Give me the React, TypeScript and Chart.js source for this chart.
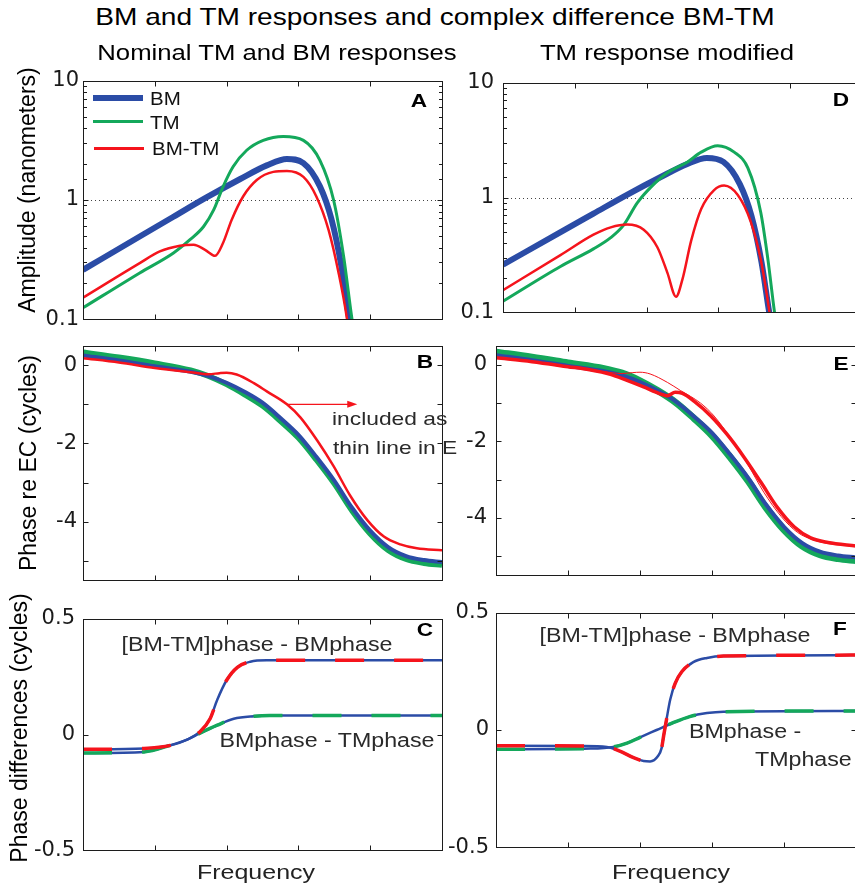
import React, { useEffect, useRef } from "react";
import { Chart, registerables } from "chart.js";
Chart.register(...registerables);

// ---------------- DATA ----------------
// Panel A / D: amplitude (nanometers) vs frequency (axis units 0..5)
const bmAmpFreq = [0, 0.79, 1.26, 1.72, 2.19, 2.56, 2.84, 3.07, 3.3, 3.46, 3.6, 3.7, 3.8];
const bmAmp = [0.26, 0.495, 0.724, 1.05, 1.5, 1.95, 2.21, 2.04, 1.3, 0.692, 0.275, 0.107, 0.045];

const tmAmpFreq = [0, 0.79, 1.26, 1.49, 1.68, 1.82, 1.95, 2.09, 2.28, 2.51, 2.79, 3.07, 3.3, 3.49, 3.63, 3.74, 3.85];
const tmAmp = [0.125, 0.245, 0.36, 0.465, 0.6, 0.826, 1.29, 1.9, 2.61, 3.16, 3.41, 3.16, 2.15, 1.0, 0.337, 0.107, 0.04];

const diffAmpFreq = [0, 0.79, 1.07, 1.35, 1.54, 1.7, 1.84, 1.95, 2.07, 2.23, 2.42, 2.65, 2.84, 3.07, 3.25, 3.42, 3.56, 3.67, 3.76];
const diffAmp = [0.152, 0.296, 0.371, 0.414, 0.422, 0.383, 0.341, 0.436, 0.681, 1.07, 1.47, 1.72, 1.75, 1.56, 1.07, 0.562, 0.245, 0.107, 0.04];

const tmModAmpFreq = [0, 0.8, 1.26, 1.5, 1.68, 1.87, 2.06, 2.29, 2.57, 2.76, 2.99, 3.22, 3.41, 3.59, 3.69, 3.78, 3.88];
const tmModAmp = [0.125, 0.251, 0.357, 0.447, 0.575, 0.897, 1.23, 1.64, 2.04, 2.48, 2.82, 2.48, 1.81, 0.741, 0.288, 0.102, 0.04];

const diffModAmpFreq = [0, 0.8, 1.26, 1.5, 1.73, 1.96, 2.15, 2.29, 2.41, 2.5, 2.62, 2.76, 2.94, 3.08, 3.27, 3.45, 3.59, 3.71, 3.8];
const diffModAmp = [0.156, 0.315, 0.475, 0.55, 0.582, 0.525, 0.369, 0.221, 0.137, 0.195, 0.419, 0.794, 1.16, 1.27, 1.05, 0.617, 0.288, 0.102, 0.04];

// Panel B / E: phase re EC (cycles)
const phaseFreq = [0, 0.5, 1, 1.5, 1.75, 2, 2.25, 2.5, 2.75, 3, 3.25, 3.5, 3.75, 4, 4.25, 4.5, 4.75, 5];
const bmPhase = [0.25, 0.12, -0.03, -0.17, -0.28, -0.45, -0.68, -0.96, -1.35, -1.78, -2.34, -2.95, -3.65, -4.23, -4.65, -4.88, -4.98, -5.03];
const tmPhase = [0.33, 0.2, 0.05, -0.13, -0.28, -0.49, -0.75, -1.04, -1.43, -1.86, -2.42, -3.03, -3.73, -4.31, -4.73, -4.96, -5.06, -5.11];
const tmModPhase = [0.33, 0.2, 0.05, -0.1, -0.22, -0.42, -0.68, -0.99, -1.4, -1.85, -2.41, -3.03, -3.73, -4.31, -4.73, -4.96, -5.06, -5.11];

const diffPhaseFreq = [0, 0.5, 1, 1.5, 1.75, 1.9, 2.0, 2.14, 2.38, 2.56, 2.84, 3.03, 3.26, 3.49, 3.72, 3.96, 4.19, 4.42, 4.65, 5];
const diffPhase = [0.18, 0.07, -0.07, -0.18, -0.23, -0.205, -0.195, -0.24, -0.46, -0.67, -1.0, -1.34, -1.92, -2.58, -3.33, -3.96, -4.38, -4.58, -4.68, -4.73];

const diffModPhaseFreq = [0, 0.5, 1, 1.3, 1.59, 1.82, 2.05, 2.28, 2.38, 2.49, 2.59, 2.75, 2.98, 3.21, 3.44, 3.68, 3.91, 4.14, 4.37, 4.61, 5];
const diffModPhase = [0.18, 0.08, -0.05, -0.13, -0.25, -0.41, -0.58, -0.76, -0.81, -0.72, -0.75, -0.95, -1.33, -1.82, -2.4, -3.07, -3.73, -4.23, -4.52, -4.64, -4.73];

// Panel C / F: phase differences (cycles)
const cDiffFreq = [0, 0.85, 1.22, 1.45, 1.63, 1.77, 1.87, 2.0, 2.15, 2.33, 2.56, 3.5, 5];
const cDiffMinusBm = [-0.064, -0.06, -0.047, -0.022, 0.012, 0.068, 0.15, 0.234, 0.29, 0.314, 0.32, 0.32, 0.32];
const cBmTmFreq = [0, 0.85, 1.22, 1.45, 1.63, 1.87, 2.1, 2.38, 2.6, 5];
const cBmMinusTm = [-0.08, -0.075, -0.046, -0.022, 0.006, 0.04, 0.068, 0.079, 0.082, 0.082];

const fDiffFreq = [0, 1.2, 1.54, 1.72, 1.91, 2.05, 2.14, 2.25, 2.3, 2.33, 2.37, 2.42, 2.49, 2.58, 2.74, 2.93, 3.16, 5];
const fDiffMinusBm = [-0.067, -0.068, -0.072, -0.09, -0.118, -0.132, -0.134, -0.111, -0.077, -0.022, 0.048, 0.13, 0.2, 0.248, 0.289, 0.307, 0.315, 0.319];
const fBmTmFreq = [0, 1.31, 1.63, 1.82, 2.0, 2.23, 2.46, 2.69, 2.93, 3.16, 5];
const fBmMinusTm = [-0.082, -0.079, -0.072, -0.056, -0.031, 0.0, 0.031, 0.057, 0.072, 0.078, 0.081];

// Ticks and tick labels
const freqTicks = [0, 1, 2, 3, 4, 5];
const ampTickLabels = [0.1, 1, 10];
const phaseTicks = [-5, -4, -3, -2, -1, 0];
const phaseTickLabels = [0, -2, -4];
const diffTicks = [-0.5, 0, 0.5];
const diffTickLabels = [-0.5, 0, 0.5];

// ---------------- STYLE ----------------
const BLUE = "#2B4CA6";
const GREEN = "#14A85B";
const RED = "#F5141C";
const FONT = '"Liberation Sans", Arial, Helvetica, sans-serif';
const AX = 70, PT = 16, PB = 16, PR = 4;

type Frame = { l: number; t: number; r: number; b: number };

const pts = (xs: number[], ys: number[]) => xs.map((x, i) => ({ x, y: ys[i] }));
const near = (a: number, b: number) => Math.abs(a - b) <= 1e-6 * Math.max(1, Math.abs(b));
const setTicks = (vals: number[]) => (s: any) => { s.ticks = vals.map((value) => ({ value })); };

const axesPlugin = {
  id: "matlabAxes",
  beforeDatasetsDraw(chart: any, _a: any, opts: any) {
    if (opts.dottedAt == null) return;
    const { ctx, chartArea: ca, scales } = chart;
    const py = Math.round(scales.y.getPixelForValue(opts.dottedAt)) + 0.5;
    ctx.save();
    ctx.strokeStyle = "#444";
    ctx.lineWidth = 1;
    ctx.setLineDash([1, 3]);
    ctx.beginPath();
    ctx.moveTo(ca.left, py);
    ctx.lineTo(ca.right, py);
    ctx.stroke();
    ctx.restore();
  },
  afterDatasetsDraw(chart: any, _a: any, opts: any) {
    const { ctx, chartArea: ca, scales } = chart;
    const L = Math.round(ca.left) + 0.5, R = Math.round(ca.right) + 0.5;
    const T = Math.round(ca.top) + 0.5, B = Math.round(ca.bottom) + 0.5;
    ctx.save();
    if (opts.arrow) {
      const a = opts.arrow;
      const x0 = scales.x.getPixelForValue(a.x0), x1 = scales.x.getPixelForValue(a.x1);
      const py = scales.y.getPixelForValue(a.y);
      ctx.strokeStyle = RED;
      ctx.fillStyle = RED;
      ctx.lineWidth = 1.3;
      ctx.beginPath();
      ctx.moveTo(x0, py);
      ctx.lineTo(x1 - 8, py);
      ctx.stroke();
      ctx.beginPath();
      ctx.moveTo(x1, py);
      ctx.lineTo(x1 - 10, py - 3.5);
      ctx.lineTo(x1 - 10, py + 3.5);
      ctx.closePath();
      ctx.fill();
    }
    ctx.strokeStyle = "#1c1c1c";
    ctx.lineWidth = 1;
    ctx.beginPath();
    scales.x.ticks.forEach((t: any) => {
      const px = Math.round(scales.x.getPixelForValue(t.value)) + 0.5;
      if (px <= L + 1 || px >= R - 1) return;
      ctx.moveTo(px, B); ctx.lineTo(px, B - 5);
      ctx.moveTo(px, T); ctx.lineTo(px, T + 5);
    });
    const majors: number[] = opts.majors || [];
    scales.y.ticks.forEach((t: any) => {
      const py = Math.round(scales.y.getPixelForValue(t.value)) + 0.5;
      if (py <= T + 1 || py >= B - 1) return;
      const len = opts.minorLog && !majors.some((m) => near(t.value, m)) ? 3.5 : 5;
      ctx.moveTo(L, py); ctx.lineTo(L + len, py);
      ctx.moveTo(R, py); ctx.lineTo(R - len, py);
    });
    ctx.stroke();
    ctx.strokeRect(L, T, R - L, B - T);
    ctx.restore();
  },
};

function line(data: any[], color: string, width: number, dash?: number[]) {
  return {
    data,
    borderColor: color,
    backgroundColor: color,
    borderWidth: width,
    pointRadius: 0,
    fill: false,
    cubicInterpolationMode: "monotone",
    clip: 0,
    borderJoinStyle: "round",
    borderCapStyle: "butt",
    borderDash: dash || [],
  };
}

function Panel({ frame, datasets, yScale, pluginOpts }: { frame: Frame; datasets: any[]; yScale: any; pluginOpts: any }) {
  const ref = useRef<HTMLCanvasElement>(null);
  const w = frame.r - frame.l + AX + PR;
  const h = frame.b - frame.t + PT + PB;
  useEffect(() => {
    const chart = new Chart(ref.current as HTMLCanvasElement, {
      type: "line",
      data: { datasets },
      options: {
        responsive: false,
        animation: false,
        events: [],
        layout: { padding: { left: 0, top: PT, right: PR, bottom: PB } },
        plugins: {
          legend: { display: false },
          tooltip: { enabled: false },
          matlabAxes: pluginOpts,
        } as any,
        scales: {
          x: {
            type: "linear",
            min: 0,
            max: 5,
            grid: { display: false },
            border: { display: false },
            ticks: { display: false, autoSkip: false },
            afterBuildTicks: setTicks(freqTicks),
            afterFit: (s: any) => { s.height = 0; },
          },
          y: {
            ...yScale,
            grid: { display: false, drawTicks: false },
            border: { display: false },
            afterFit: (s: any) => { s.width = AX; },
          },
        },
      } as any,
      plugins: [axesPlugin as any],
    });
    return () => chart.destroy();
  }, []);
  return (
    <canvas
      ref={ref}
      width={w}
      height={h}
      style={{ position: "absolute", left: frame.l - AX, top: frame.t - PT, width: w, height: h }}
    />
  );
}

function Txt({ x, y, s, children, a = "c", k = 1.19, b = false, c = "#1a1a1a" }: any) {
  const style: any = {
    position: "absolute",
    left: x,
    top: y,
    fontFamily: FONT,
    fontSize: s,
    lineHeight: 1,
    whiteSpace: "nowrap",
    color: c,
    fontWeight: b ? "bold" : "normal",
  };
  if (a === "c") {
    style.transform = `translate(-50%,-50%) scaleX(${k})`;
    style.transformOrigin = "center center";
  } else if (a === "l") {
    style.transform = `translateY(-50%) scaleX(${k})`;
    style.transformOrigin = "left center";
  } else {
    style.transform = "translate(-50%,-50%) rotate(-90deg)";
    style.transformOrigin = "center center";
  }
  return <div style={style}>{children}</div>;
}

const tickFont = { family: '"DejaVu Sans", sans-serif', size: 21 };

function ampScale(padding: number) {
  return {
    type: "logarithmic",
    min: 0.1,
    max: 10,
    ticks: {
      autoSkip: false,
      padding,
      color: "#1a1a1a",
      font: tickFont,
      callback: (v: number) => {
        const m = ampTickLabels.find((l) => near(v, l));
        return m === undefined ? "" : String(m);
      },
    },
  };
}

function phaseScale(padding: number) {
  return {
    type: "linear",
    min: -5.5,
    max: 0.5,
    afterBuildTicks: setTicks(phaseTicks),
    ticks: {
      autoSkip: false,
      padding,
      color: "#1a1a1a",
      font: tickFont,
      callback: (v: number) => (phaseTickLabels.some((l) => near(v, l)) ? String(v) : ""),
    },
  };
}

function diffScale(padding: number) {
  return {
    type: "linear",
    min: -0.5,
    max: 0.5,
    afterBuildTicks: setTicks(diffTicks),
    ticks: {
      autoSkip: false,
      padding,
      color: "#1a1a1a",
      font: tickFont,
      callback: (v: number) => (diffTickLabels.some((l) => near(v, l)) ? String(v) : ""),
    },
  };
}

const frameA: Frame = { l: 83, t: 80, r: 442, b: 320 };
const frameB: Frame = { l: 83, t: 343, r: 442, b: 583 };
const frameC: Frame = { l: 83, t: 614, r: 442, b: 855 };
const frameD: Frame = { l: 503, t: 77, r: 862, b: 318 };
const frameE: Frame = { l: 496, t: 340, r: 856, b: 581 };
const frameF: Frame = { l: 496, t: 609, r: 856, b: 851 };

export default function App() {
  useEffect(() => {
    document.body.style.overflow = "hidden";
  }, []);
  const dash = [29, 30];
  return (
    <div style={{ position: "absolute", left: 0, top: 0, width: 855, height: 887, overflow: "hidden", background: "#fff" }}>
      <Panel
        frame={frameA}
        yScale={ampScale(4)}
        pluginOpts={{ dottedAt: 1, minorLog: true, majors: ampTickLabels }}
        datasets={[
          line(pts(diffAmpFreq, diffAmp), RED, 2.5),
          line(pts(tmAmpFreq, tmAmp), GREEN, 3),
          line(pts(bmAmpFreq, bmAmp), BLUE, 6),
        ]}
      />
      <Panel
        frame={frameD}
        yScale={ampScale(9)}
        pluginOpts={{ dottedAt: 1, minorLog: true, majors: ampTickLabels }}
        datasets={[
          line(pts(diffModAmpFreq, diffModAmp), RED, 2.5),
          line(pts(tmModAmpFreq, tmModAmp), GREEN, 3),
          line(pts(bmAmpFreq, bmAmp), BLUE, 6),
        ]}
      />
      <Panel
        frame={frameB}
        yScale={phaseScale(6)}
        pluginOpts={{ arrow: { x0: 2.84, x1: 3.82, y: -1.0 } }}
        datasets={[
          line(pts(diffPhaseFreq, diffPhase), RED, 2.5),
          line(pts(phaseFreq, bmPhase), BLUE, 4),
          line(pts(phaseFreq, tmPhase), GREEN, 5.5),
        ]}
      />
      <Panel
        frame={frameE}
        yScale={phaseScale(9)}
        pluginOpts={{}}
        datasets={[
          line(pts(diffPhaseFreq, diffPhase), RED, 1),
          line(pts(diffModPhaseFreq, diffModPhase), RED, 3.5),
          line(pts(phaseFreq, bmPhase), BLUE, 4),
          line(pts(phaseFreq, tmModPhase), GREEN, 7),
        ]}
      />
      <Panel
        frame={frameC}
        yScale={diffScale(8)}
        pluginOpts={{}}
        datasets={[
          line(pts(cDiffFreq, cDiffMinusBm), RED, 3.5, dash),
          line(pts(cBmTmFreq, cBmMinusTm), GREEN, 3.5, dash),
          line(pts(cDiffFreq, cDiffMinusBm), BLUE, 2.5),
          line(pts(cBmTmFreq, cBmMinusTm), BLUE, 2.5),
        ]}
      />
      <Panel
        frame={frameF}
        yScale={diffScale(7)}
        pluginOpts={{}}
        datasets={[
          line(pts(fDiffFreq, fDiffMinusBm), RED, 3.5, dash),
          line(pts(fBmTmFreq, fBmMinusTm), GREEN, 3.5, dash),
          line(pts(fDiffFreq, fDiffMinusBm), BLUE, 2.5),
          line(pts(fBmTmFreq, fBmMinusTm), BLUE, 2.5),
        ]}
      />

      {/* Titles */}
      <Txt x={435} y={18} s={23.6} c="#000">BM and TM responses and complex difference BM-TM</Txt>
      <Txt x={277} y={53} s={21.6} c="#000">Nominal TM and BM responses</Txt>
      <Txt x={667} y={53} s={21.6} c="#000">TM response modified</Txt>

      {/* Y axis titles */}
      <Txt x={26.5} y={190} s={23} a="v" c="#000">Amplitude (nanometers)</Txt>
      <Txt x={28} y={462.5} s={23} a="v" c="#000">Phase re EC (cycles)</Txt>
      <Txt x={19} y={727.5} s={23} a="v" c="#000">Phase differences (cycles)</Txt>

      {/* X axis titles */}
      <Txt x={256} y={871} s={21} c="#222">Frequency</Txt>
      <Txt x={671} y={870.5} s={21} c="#222">Frequency</Txt>

      {/* Panel letters */}
      <Txt x={418.5} y={100} s={19} b c="#000">A</Txt>
      <Txt x={424.5} y={360.5} s={19} b c="#000">B</Txt>
      <Txt x={425} y={629} s={19} b c="#000">C</Txt>
      <Txt x={840.5} y={99} s={19} b c="#000">D</Txt>
      <Txt x={840.5} y={363} s={19} b c="#000">E</Txt>
      <Txt x={840} y={628} s={19} b c="#000">F</Txt>

      {/* Legend in A */}
      <div style={{ position: "absolute", left: 93, top: 94.7, width: 50, height: 6, background: BLUE }} />
      <div style={{ position: "absolute", left: 93, top: 119.5, width: 50, height: 3, background: GREEN }} />
      <div style={{ position: "absolute", left: 94, top: 147, width: 50, height: 2.5, background: RED }} />
      <Txt x={150} y={97.5} s={19} a="l" k={1.08} c="#111">BM</Txt>
      <Txt x={150} y={121.7} s={19} a="l" k={1.08} c="#111">TM</Txt>
      <Txt x={151.5} y={148} s={19} a="l" k={1.08} c="#111">BM-TM</Txt>

      {/* Annotations */}
      <Txt x={331.7} y={418.4} s={19} a="l" k={1.2} c="#2a2a2a">included as</Txt>
      <Txt x={332.7} y={446.7} s={19} a="l" k={1.2} c="#2a2a2a">thin line in E</Txt>
      <Txt x={256.7} y={645} s={19.5} c="#2a2a2a">[BM-TM]phase - BMphase</Txt>
      <Txt x={326.7} y={741.3} s={19.5} c="#2a2a2a">BMphase - TMphase</Txt>
      <Txt x={675} y={636} s={19.5} c="#2a2a2a">[BM-TM]phase - BMphase</Txt>
      <Txt x={689.3} y={731.7} s={19.5} a="l" c="#2a2a2a">BMphase -</Txt>
      <Txt x={755} y={760} s={19.5} a="l" c="#2a2a2a">TMphase</Txt>
    </div>
  );
}
